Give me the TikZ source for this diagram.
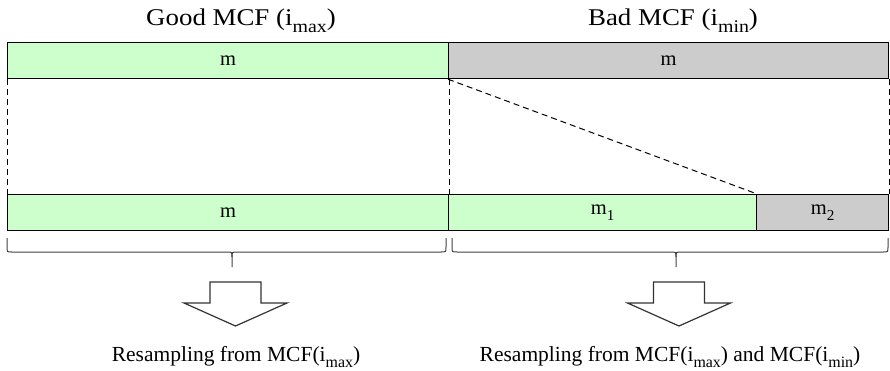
\documentclass[tikz,border=0pt]{standalone}
\usepackage{fontspec}
\usepackage{graphicx}
\setmainfont{Liberation Serif}
\definecolor{goodfill}{HTML}{CCFFCC}
\definecolor{badfill}{HTML}{CCCCCC}
% lowered index in the running text font
\newcommand{\lowidx}[1]{\raisebox{-0.3em}{\scalebox{0.74}{#1}}}
\tikzset{
  bar/.style={draw=black, line width=1.2pt, minimum height=36pt, inner sep=0pt,
    anchor=north west, font=\fontsize{20.5}{24}\selectfont},
  goodbar/.style={bar, fill=goodfill},
  badbar/.style={bar, fill=badfill},
  guide/.style={draw=black, line width=1pt, dash pattern=on 6pt off 4pt},
  bracestroke/.style={draw=black!75, line width=1pt},
  blockarrow/.style={draw=black!80, line width=1.2pt, fill=white, line join=miter},
  caption/.style={anchor=base, inner sep=0pt, font=\fontsize{21.5}{26}\selectfont},
  heading/.style={anchor=base, inner sep=0pt, font=\fontsize{24}{28}\selectfont}
}
% curly brace opening downwards, spanning x=#1..#2, top at y=#3, tip at x=#4
\newcommand{\downbrace}[4]{%
  \draw[bracestroke] (#1,#3) -- (#1,#3+9) .. controls (#1,#3+14) .. (#1+5,#3+14)
    -- (#4-5,#3+14) .. controls (#4,#3+14) .. (#4,#3+19) -- (#4,#3+29);
  \draw[bracestroke] (#4,#3+19) .. controls (#4,#3+14) .. (#4+5,#3+14)
    -- (#2-5,#3+14) .. controls (#2,#3+14) .. (#2,#3+9) -- (#2,#3);
}
\begin{document}
\begin{tikzpicture}[x=1pt, y=-1pt]
  \useasboundingbox (0,0) rectangle (890,370);

  % column titles
  \node[heading] (tgood) at (241,25) {\scalebox{1.12}[1]{Good MCF (i\lowidx{max})}};
  \node[heading] (tbad)  at (673,25) {\scalebox{1.12}[1]{Bad MCF (i\lowidx{min})}};

  % upper row
  \node[goodbar, minimum width=441pt] (topgood) at (7,42) {m};
  \node[badbar,  minimum width=440pt] (topbad)  at (448,42) {m};

  % lower row
  \node[goodbar, minimum width=441pt] (botgood) at (7,194) {m};
  \node[goodbar, minimum width=308pt] (botm1)   at (448,194) {m\lowidx{1}};
  \node[badbar,  minimum width=132pt] (botm2)   at (756,194) {m\lowidx{2}};

  % dashed correspondences
  \draw[guide] (topgood.south west) -- (botgood.north west);
  \draw[guide] (topgood.south east) -- (botgood.north east);
  \draw[guide] (topbad.south east) -- (botm2.north east);
  \draw[guide] (topbad.south west) -- (botm1.north east);

  % braces under the lower row
  \downbrace{7}{446}{238}{232}
  \downbrace{452}{888}{238}{676}

  % block arrows
  \coordinate (agood) at (235.5,282);
  \coordinate (abad)  at (679,282);
  \foreach \a in {agood,abad}{
    \draw[blockarrow] (\a) ++(-25.5,0) -- ++(0,21) -- ++(-26,0)
      -- ++(51.5,23) -- ++(51.5,-23) -- ++(-26,0) -- ++(0,-21) -- cycle;
  }

  % result captions
  \node[caption] (rgood) at (236,361) {Resampling from MCF(i\lowidx{max})};
  \node[caption] (rbad)  at (670,361) {Resampling from MCF(i\lowidx{max}) and MCF(i\lowidx{min})};
\end{tikzpicture}
\end{document}
